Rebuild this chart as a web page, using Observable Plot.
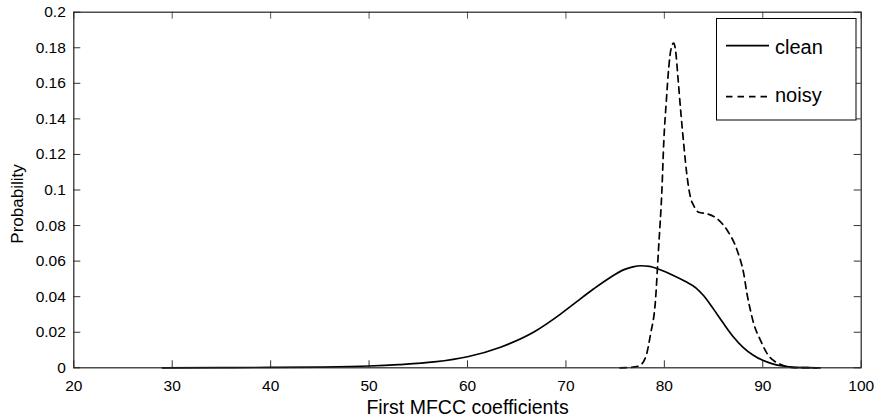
<!DOCTYPE html>
<html>
<head>
<meta charset="utf-8">
<script src="https://cdn.jsdelivr.net/npm/d3@7"></script>
<script src="https://cdn.jsdelivr.net/npm/@observablehq/plot@0.6"></script>
<style>
  html, body { margin: 0; padding: 0; background: #fff; }
  #chart { width: 880px; height: 419px; }
</style>
</head>
<body>
<div id="chart"></div>
<script>
// ---- data ----
const cleanX = [29, 35, 40, 45, 50, 53, 56.6, 60, 63.35, 66.7, 69.45, 71.1, 72.8, 74.5, 75.9, 76.8, 77.6, 78.5, 79.3, 80.7, 82.15, 83.2, 84.0, 85.0, 86.0, 87.0, 88.0, 89.0, 90.0, 91.0, 92.0, 93.0, 94.5, 95.5];
const cleanY = [0, 0.0001, 0.0002, 0.0004, 0.001, 0.0018, 0.0033, 0.0062, 0.0116, 0.020, 0.0302, 0.0372, 0.0443, 0.0508, 0.0552, 0.0568, 0.0574, 0.0570, 0.0557, 0.0525, 0.0485, 0.0450, 0.0405, 0.033, 0.025, 0.0175, 0.0115, 0.0072, 0.0042, 0.0022, 0.0010, 0.0004, 0.0001, 0];

const noisyX = [75.5, 76.5, 77.4, 78.1, 78.6, 79.1, 79.4, 79.75, 79.95, 80.2, 80.45, 80.65, 80.95, 81.15, 81.4, 81.7, 82.0, 82.3, 82.65, 83.0, 83.5, 84.35, 85.37, 86.4, 87.4, 88.07, 88.4, 88.75, 89.09, 89.77, 90.45, 91.1, 92.1, 92.8, 94, 96];
const noisyY = [0, 0.0002, 0.001, 0.006, 0.019, 0.038, 0.066, 0.0997, 0.128, 0.150, 0.169, 0.1785, 0.1826, 0.178, 0.162, 0.142, 0.124, 0.108, 0.096, 0.091, 0.0875, 0.0866, 0.0838, 0.0772, 0.066, 0.0528, 0.0416, 0.0322, 0.0247, 0.0154, 0.0079, 0.0041, 0.0013, 0.0003, 0.0001, 0];

const xTicks = [20, 30, 40, 50, 60, 70, 80, 90, 100];
const yTicks = [0, 0.02, 0.04, 0.06, 0.08, 0.1, 0.12, 0.14, 0.16, 0.18, 0.2];
const yTickLabels = ["0", "0.02", "0.04", "0.06", "0.08", "0.1", "0.12", "0.14", "0.16", "0.18", "0.2"];
const seriesNames = ["clean", "noisy"];
const xTitle = "First MFCC coefficients";
const yTitle = "Probability";

// ---- tables built from the arrays ----
const clean = cleanX.map((x, i) => ({x, y: cleanY[i]}));
const noisy = noisyX.map((x, i) => ({x, y: noisyY[i]}));

const FONT = "'Liberation Sans', Arial, Helvetica, sans-serif";
const TICK = 7;

const chart = Plot.plot({
  width: 880,
  height: 419,
  marginTop: 11.7,
  marginRight: 19.3,
  marginBottom: 51.7,
  marginLeft: 73.3,
  style: {fontFamily: FONT, fontSize: "15.5px", color: "#000", background: "#fff"},
  x: {domain: [20, 100]},
  y: {domain: [0, 0.2]},
  marks: [
    Plot.axisX({ticks: xTicks, tickSize: 0, tickPadding: 12, label: null, fontSize: 15.5}),
    Plot.axisY({ticks: yTicks, tickSize: 0, tickPadding: 8, label: null, fontSize: 15.5,
      tickFormat: (d) => yTickLabels[yTicks.indexOf(d)] ?? String(d)}),
    // inward ticks on all four sides
    Plot.ruleX(xTicks, {x: (d) => d, y1: () => 0, y2: () => 0, insetTop: -TICK, stroke: "#333"}),
    Plot.ruleX(xTicks, {x: (d) => d, y1: () => 0.2, y2: () => 0.2, insetBottom: -TICK, stroke: "#555"}),
    Plot.ruleY(yTicks, {y: (d) => d, x1: () => 20, x2: () => 20, insetRight: -TICK, stroke: "#333"}),
    Plot.ruleY(yTicks, {y: (d) => d, x1: () => 100, x2: () => 100, insetLeft: -TICK, stroke: "#333"}),
    Plot.line(clean, {x: "x", y: "y", stroke: "#000", strokeWidth: 1.7, curve: "monotone-x"}),
    Plot.line(noisy, {x: "x", y: "y", stroke: "#000", strokeWidth: 1.7, curve: "monotone-x", strokeDasharray: "6.5,5"}),
    Plot.frame({stroke: "#222", strokeWidth: 1.2}),
    Plot.text([xTitle], {frameAnchor: "bottom", textAnchor: "middle", lineAnchor: "top", dy: 32.5, fontSize: 19.5, fill: "#000"}),
    Plot.text([yTitle], {frameAnchor: "left", textAnchor: "middle", lineAnchor: "bottom", rotate: -90, dx: -50.8, dy: 14, fontSize: 17, fill: "#000"})
  ]
});

document.getElementById("chart").appendChild(chart);

// ---- legend (layout box inside the axes, upper right) ----
const svg = d3.select(chart);
const lg = svg.append("g").attr("class", "legend").attr("font-family", FONT).attr("text-anchor", "start");
lg.append("rect").attr("x", 716.5).attr("y", 18.5).attr("width", 139.5).attr("height", 101.5)
  .attr("fill", "#fff").attr("stroke", "#000").attr("stroke-width", 1);
const rows = [{name: seriesNames[0], dash: null, ly: 45.7, ty: 54}, {name: seriesNames[1], dash: "6.5,5", ly: 96.7, ty: 102}];
rows.forEach((r) => {
  const ln = lg.append("line").attr("x1", 726).attr("x2", 769).attr("y1", r.ly).attr("y2", r.ly)
    .attr("stroke", "#000").attr("stroke-width", 1.7);
  if (r.dash) ln.attr("stroke-dasharray", r.dash);
  lg.append("text").attr("x", 775).attr("y", r.ty).attr("text-anchor", "start")
    .attr("font-size", 20).attr("fill", "#000").text(r.name);
});
</script>
</body>
</html>
